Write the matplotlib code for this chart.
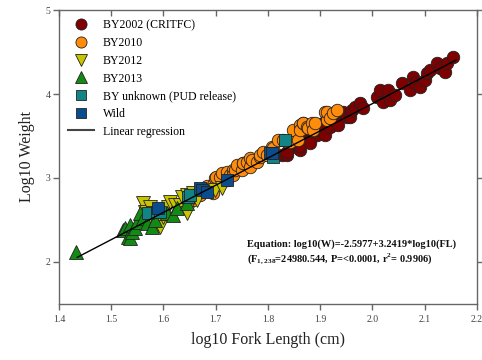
import matplotlib
matplotlib.use("Agg")
import matplotlib.pyplot as plt
from matplotlib.lines import Line2D
import numpy as np

plt.rcParams["font.family"] = "Liberation Serif"
plt.rcParams["mathtext.fontset"] = "custom"
plt.rcParams["mathtext.rm"] = "Liberation Serif"
plt.rcParams["mathtext.bf"] = "Liberation Serif:bold"

# regression coefficients (log10 W = a + b * log10 FL)
REG_A = -2.5977
REG_B = 3.2419
REG_X = [1.435, 2.16]

# BY2002 (CRITFC)
by2002_x = [1.827, 1.836, 1.852, 1.858, 1.861, 1.875, 1.880, 1.894, 1.900, 1.905,
            1.909, 1.919, 1.925, 1.932, 1.934, 1.944, 1.951, 1.957, 1.961, 1.966,
            1.976, 1.982, 2.008, 2.014, 2.020, 2.030, 2.034, 2.043, 2.056, 2.072,
            2.077, 2.081, 2.091, 2.100, 2.104, 2.110, 2.123, 2.130, 2.139, 2.142,
            2.154, 1.836, 1.861, 1.880]
by2002_y = [3.27, 3.27, 3.45, 3.36, 3.33, 3.54, 3.45, 3.51, 3.57, 3.65,
            3.51, 3.61, 3.73, 3.69, 3.63, 3.79, 3.73, 3.73, 3.81, 3.85,
            3.89, 3.83, 3.96, 4.05, 3.90, 4.05, 3.93, 3.99, 4.13, 4.05,
            4.20, 4.13, 4.08, 4.17, 4.25, 4.29, 4.37, 4.31, 4.26, 4.37,
            4.44, 3.31, 3.38, 3.42]

# BY2010
by2010_x = [1.657, 1.670, 1.683, 1.695, 1.695, 1.699, 1.700, 1.708, 1.712, 1.721,
            1.721, 1.727, 1.733, 1.733, 1.737, 1.741, 1.750, 1.752, 1.752, 1.760,
            1.766, 1.766, 1.769, 1.779, 1.785, 1.785, 1.790, 1.798, 1.807, 1.810,
            1.819, 1.829, 1.838, 1.842, 1.848, 1.857, 1.861, 1.861, 1.867, 1.867,
            1.875, 1.877, 1.884, 1.886, 1.890, 1.909, 1.913, 1.913, 1.919, 1.924,
            1.932]
by2010_y = [2.74, 2.80, 2.90, 2.92, 2.82, 3.00, 3.01, 3.01, 3.06, 3.07,
            2.98, 3.04, 3.10, 3.04, 3.10, 3.15, 3.10, 3.18, 3.18, 3.19,
            3.13, 3.24, 3.21, 3.19, 3.25, 3.27, 3.31, 3.27, 3.37, 3.36,
            3.45, 3.45, 3.43, 3.43, 3.57, 3.45, 3.63, 3.57, 3.65, 3.65,
            3.61, 3.60, 3.65, 3.57, 3.65, 3.79, 3.69, 3.79, 3.71, 3.77,
            3.81]

# BY2012
by2012_x = [1.561, 1.565, 1.570, 1.574, 1.580, 1.587, 1.593, 1.599, 1.609, 1.612,
            1.622, 1.632, 1.635, 1.645, 1.645, 1.657, 1.657, 1.664, 1.699, 1.712]
by2012_y = [2.70, 2.60, 2.44, 2.65, 2.58, 2.44, 2.42, 2.54, 2.65, 2.71,
            2.68, 2.68, 2.77, 2.80, 2.58, 2.82, 2.76, 2.74, 2.86, 2.88]

# BY2013
by2013_x = [1.433, 1.522, 1.526, 1.532, 1.536, 1.536, 1.539, 1.545, 1.549, 1.555,
            1.561, 1.568, 1.578, 1.584, 1.587, 1.607, 1.618, 1.626, 1.645]
by2013_y = [2.12, 2.38, 2.40, 2.30, 2.44, 2.29, 2.35, 2.40, 2.48, 2.58,
            2.52, 2.46, 2.42, 2.50, 2.62, 2.58, 2.56, 2.64, 2.70]

# BY unknown (PUD release)
unk_x = [1.570, 1.587, 1.593, 1.647, 1.651, 1.810, 1.833]
unk_y = [2.58, 2.60, 2.60, 2.77, 2.80, 3.25, 3.45]

# Wild
wild_x = [1.589, 1.670, 1.674, 1.683, 1.722, 1.804, 1.808]
wild_y = [2.64, 2.88, 2.86, 2.83, 2.98, 3.30, 3.30]

series = [
    ("BY2002 (CRITFC)", by2002_x, by2002_y, "o", "#7f0000", 9),
    ("BY2010", by2010_x, by2010_y, "o", "#ff8c0a", 9),
    ("BY2012", by2012_x, by2012_y, "v", "#c8c400", 9.5),
    ("BY2013", by2013_x, by2013_y, "^", "#138a13", 9.5),
    ("BY unknown (PUD release)", unk_x, unk_y, "s", "#118585", 8.5),
    ("Wild", wild_x, wild_y, "s", "#0b4d8c", 8.5),
]

fig = plt.figure(figsize=(4.82, 3.6), dpi=100)
ax = fig.add_axes([0.1224, 0.156, 0.8672, 0.816])

handles = []
for label, xs, ys, marker, color, ms in series:
    ax.plot(xs, ys, linestyle="none", marker=marker, markersize=ms,
            markerfacecolor=color, markeredgecolor="#222222",
            markeredgewidth=0.6, zorder=3)
    handles.append(Line2D([], [], linestyle="none", marker=marker, markersize=ms - 1,
                          markerfacecolor=color, markeredgecolor="#222222",
                          markeredgewidth=0.6, label=label))

reg_x = np.array(REG_X)
ax.plot(reg_x, REG_A + REG_B * reg_x, color="black", linewidth=1.0, zorder=4)
handles.append(Line2D([], [], color="#444444", linewidth=1.5, label="Linear regression"))

ax.set_xlim(1.4, 2.2)
ax.set_ylim(1.5, 5)
ax.set_xticks([1.4, 1.5, 1.6, 1.7, 1.8, 1.9, 2.0, 2.1, 2.2])
ax.set_xticklabels(["1.4", "1.5", "1.6", "1.7", "1.8", "1.9", "2.0", "2.1", "2.2"])
ax.set_yticks([2, 3, 4, 5])

for sp in ax.spines.values():
    sp.set_color("#666666")
    sp.set_linewidth(1.0)

ax.tick_params(axis="both", direction="out", length=4, width=1, color="#666666",
               labelsize=7, labelcolor="#444444", right=True, pad=4)
ax.tick_params(axis="y", pad=2)
top = ax.secondary_xaxis("top")
top.set_xticks([1.4, 1.5, 1.6, 1.7, 1.8, 1.9, 2.0, 2.1, 2.2])
top.tick_params(direction="in", length=4, width=1, color="#666666", labeltop=False)
top.spines["top"].set_visible(False)

ax.set_xlabel("log10 Fork Length (cm)", fontsize=11.5, color="#222222", labelpad=6)
ax.set_ylabel("Log10 Weight", fontsize=11.5, color="#222222", labelpad=8)

ax.legend(handles=handles, loc="upper left", frameon=False, fontsize=8.5,
          handlelength=2.2, handletextpad=0.7, labelspacing=0.48,
          borderaxespad=0.4, bbox_to_anchor=(0.0, 1.0))

ax.text(0.45, 0.194, "Equation: log10(W)=-2.5977+3.2419*log10(FL)",
        transform=ax.transAxes, fontsize=7.5, fontweight="bold", color="#111111")
ax.text(0.45, 0.140,
        r"(F$_{\mathbf{1,238}}$=24980.544, P=<0.0001, r$^{\mathbf{2}}$= 0.9906)",
        transform=ax.transAxes, fontsize=7.5, fontweight="bold", color="#111111")

fig.savefig("out.png", dpi=100)
